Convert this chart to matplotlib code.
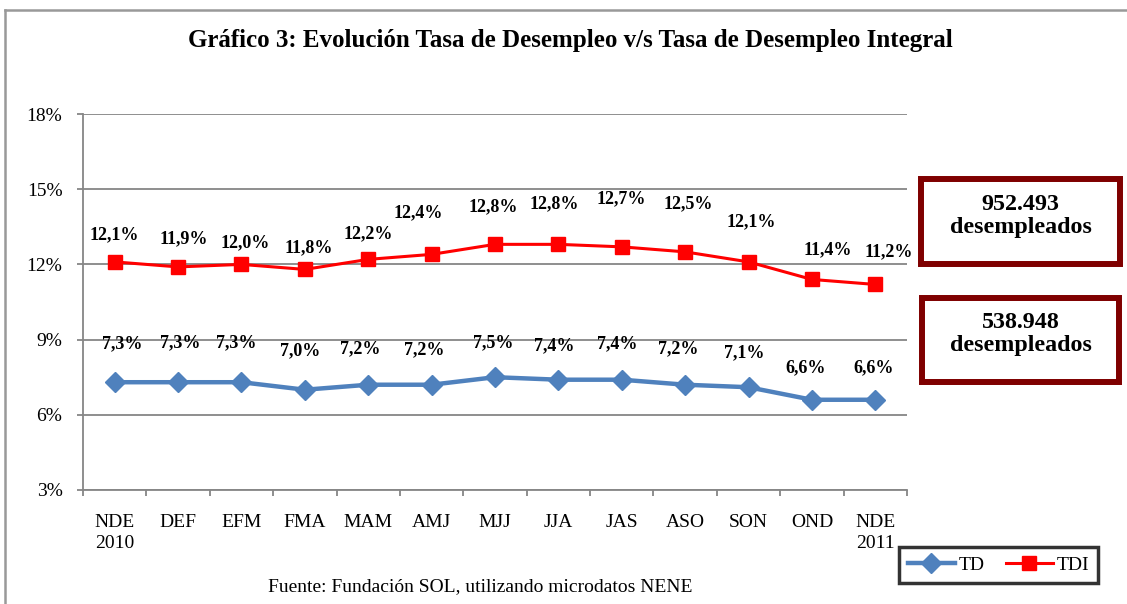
import matplotlib

matplotlib.use("Agg")

import matplotlib.pyplot as plt
from matplotlib.patches import Rectangle
from matplotlib.lines import Line2D
from matplotlib.ticker import FixedLocator, FuncFormatter

plt.rcParams["font.family"] = ["Liberation Serif", "DejaVu Serif"]

# datos
periodos = ["NDE\n2010", "DEF", "EFM", "FMA", "MAM", "AMJ", "MJJ", "JJA", "JAS", "ASO", "SON", "OND", "NDE\n2011"]
td = [7.3, 7.3, 7.3, 7.0, 7.2, 7.2, 7.5, 7.4, 7.4, 7.2, 7.1, 6.6, 6.6]
tdi = [12.1, 11.9, 12.0, 11.8, 12.2, 12.4, 12.8, 12.8, 12.7, 12.5, 12.1, 11.4, 11.2]
y_ticks = [3, 6, 9, 12, 15, 18]
desempleados_tdi = "952.493"
desempleados_td = "538.948"

# posiciones de las etiquetas (pixeles respecto al punto)
off_tdi = [(0, 27), (6, 28), (4, 22), (4, 22), (0, 26), (-13, 42), (-2, 38), (-4, 41),
           (-1, 48), (3, 48), (3, 40), (16, 30), (13, 33)]
off_td = [(8, 38), (2, 39), (-5, 39), (-5, 39), (-8, 36), (-7, 35), (-2, 34), (-4, 34),
          (-5, 36), (-7, 36), (-4, 34), (-6, 32), (-2, 32)]


def pct(v):
    return ("%.1f%%" % v).replace(".", ",")


W, H = 1127, 604
fig = plt.figure(figsize=(W / 100.0, H / 100.0), dpi=100)
ax = fig.add_axes([83.0 / W, 1 - 490.0 / H, (907.0 - 83.0) / W, (490.0 - 114.0) / H])

x = list(range(len(periodos)))
grey = "#868686"

ax.plot(x, td, color="#4F81BD", lw=3.2, marker="D", ms=10, label="TD", zorder=3)
ax.plot(x, tdi, color="#FF0000", lw=2.2, marker="s", ms=10, label="TDI", zorder=3)

for i in x:
    ax.annotate(pct(tdi[i]), (i, tdi[i]), xytext=off_tdi[i], textcoords="offset pixels",
                ha="center", va="center", fontsize=13, fontweight="bold")
    ax.annotate(pct(td[i]), (i, td[i]), xytext=off_td[i], textcoords="offset pixels",
                ha="center", va="center", fontsize=13, fontweight="bold")

ax.set_xlim(-0.5, len(periodos) - 0.5)
ax.set_ylim(3, 18)
ax.yaxis.set_major_locator(FixedLocator(y_ticks))
ax.yaxis.set_major_formatter(FuncFormatter(lambda v, p: "%d%%" % v))
ax.set_xticks(x)
ax.set_xticklabels(periodos)
ax.xaxis.set_minor_locator(FixedLocator([i - 0.5 for i in range(len(periodos) + 1)]))
ax.tick_params(axis="x", which="major", length=0, pad=17, labelsize=14)
ax.tick_params(axis="x", which="minor", length=4.3, width=1.3, color=grey, direction="out")
ax.tick_params(axis="y", length=4.3, width=1.3, color=grey, labelsize=14, pad=10.5)
for lab in ax.get_xticklabels():
    lab.set_linespacing(1.3)

ax.grid(axis="y", color=grey, lw=1.3)
ax.set_axisbelow(True)
for s in ["top", "right"]:
    ax.spines[s].set_visible(False)
for s in ["left", "bottom"]:
    ax.spines[s].set_color(grey)
    ax.spines[s].set_linewidth(1.3)

# titulo y fuente
fig.text(0.506, 1 - 41.0 / H, "Gráfico 3: Evolución Tasa de Desempleo v/s Tasa de Desempleo Integral",
         ha="center", va="center", fontsize=18, fontweight="bold")
fig.text(0.426, 1 - 587.0 / H, "Fuente: Fundación SOL, utilizando microdatos NENE",
         ha="center", va="center", fontsize=14)

# marco exterior
fig.add_artist(Line2D([5.0 / W, 5.0 / W], [0, 1 - 10.0 / H], color="#999999", lw=1.8))
fig.add_artist(Line2D([5.0 / W, 1], [1 - 10.0 / H, 1 - 10.0 / H], color="#999999", lw=1.8))

# cuadros de desempleados
rojo = "#7F0000"
fig.add_artist(Rectangle((921.0 / W, 1 - 264.0 / H), 199.0 / W, 85.0 / H, transform=fig.transFigure,
                         fill=False, ec=rojo, lw=4.3))
fig.text((921 + 1120) / 2.0 / W, 1 - 216.0 / H, desempleados_tdi + "\ndesempleados", ha="center", va="center",
         fontsize=17.3, fontweight="bold", linespacing=1.15)
fig.add_artist(Rectangle((922.0 / W, 1 - 382.0 / H), 197.0 / W, 84.0 / H, transform=fig.transFigure,
                         fill=False, ec=rojo, lw=4.3))
fig.text((922 + 1119) / 2.0 / W, 1 - 334.0 / H, desempleados_td + "\ndesempleados", ha="center", va="center",
         fontsize=17.3, fontweight="bold", linespacing=1.15)

leg = fig.legend(loc="center", bbox_to_anchor=((897 + 1100) / 2.0 / W, 1 - 565.0 / H), ncol=2,
                 fontsize=14, frameon=True, fancybox=False, handlelength=2.4, handletextpad=0.2,
                 columnspacing=1.1, borderpad=0.45)
leg.get_frame().set_edgecolor("black")
leg.get_frame().set_linewidth(2.5)

fig.savefig("out.png", dpi=100)
